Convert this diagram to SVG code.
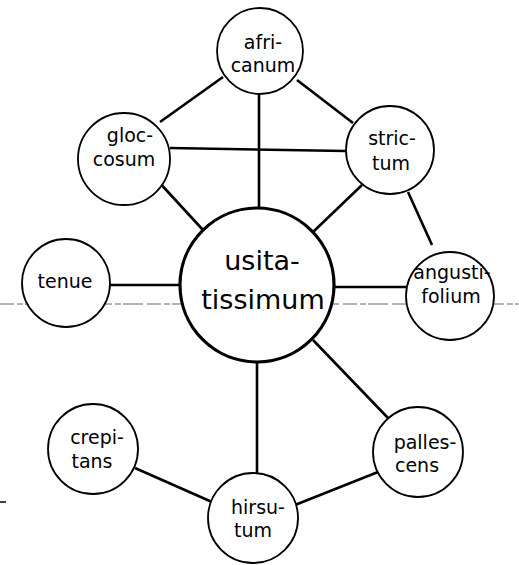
<svg xmlns="http://www.w3.org/2000/svg" width="519" height="565" viewBox="0 0 519 565">
<style>
.e{stroke:#000;stroke-width:2.6;stroke-linecap:butt;fill:none}
.n{fill:#fff;stroke:#000;stroke-width:1.8}
.big{fill:#fff;stroke:#000;stroke-width:3.2}
text{font-family:"DejaVu Sans","Liberation Sans",sans-serif;font-size:19px;fill:#000;text-anchor:middle}
.bt{font-size:27px}
.scan{stroke:#666;stroke-width:1;stroke-dasharray:14 3 6 2 20 4}
</style>
<line class="scan" x1="0" y1="304" x2="519" y2="304"/>
<line x1="0" y1="502" x2="6" y2="502" stroke="#000" stroke-width="1.5"/>
<g id="connectors">
<line class="e" x1="160" y1="122" x2="223" y2="77"/>
<line class="e" x1="297" y1="80" x2="353" y2="123"/>
<line class="e" x1="259" y1="93" x2="259" y2="209"/>
<line class="e" x1="170" y1="148" x2="346" y2="151"/>
<line class="e" x1="157" y1="180" x2="203" y2="230"/>
<line class="e" x1="362" y1="185" x2="313" y2="232"/>
<line class="e" x1="408" y1="192" x2="432" y2="245"/>
<line class="e" x1="110" y1="285" x2="181" y2="285"/>
<line class="e" x1="334" y1="287" x2="406" y2="287"/>
<line class="e" x1="313" y1="340" x2="388" y2="418"/>
<line class="e" x1="257" y1="361" x2="257" y2="474"/>
<line class="e" x1="135" y1="468" x2="212" y2="502"/>
<line class="e" x1="378" y1="472" x2="295" y2="505"/>
</g>
<g id="africanum"><circle class="n" cx="260" cy="51" r="43"/><text x="263" y="49">afri-</text><text x="263" y="72">canum</text></g>
<g id="gloccosum"><circle class="n" cx="124" cy="159" r="46"/><text x="130" y="142">gloc-</text><text x="124" y="166">cosum</text></g>
<g id="strictum"><circle class="n" cx="390" cy="150" r="44"/><text x="392" y="145">stric-</text><text x="391" y="170">tum</text></g>
<g id="usitatissimum"><circle class="big" cx="257" cy="285" r="77"/><text class="bt" x="262" y="270">usita-</text><text class="bt" x="263" y="309">tissimum</text></g>
<g id="tenue"><circle class="n" cx="66" cy="283" r="44"/><text x="65" y="288">tenue</text></g>
<g id="angustifolium"><circle class="n" cx="450" cy="296" r="44"/><text x="452" y="279">angusti-</text><text x="451" y="303">folium</text></g>
<g id="crepitans"><circle class="n" cx="93" cy="449" r="45"/><text x="97" y="444">crepi-</text><text x="92" y="468">tans</text></g>
<g id="hirsutum"><circle class="n" cx="253" cy="518" r="45"/><text x="258" y="514">hirsu-</text><text x="253" y="537">tum</text></g>
<g id="pallescens"><circle class="n" cx="418" cy="452" r="45"/><text x="425" y="449">palles-</text><text x="417" y="472">cens</text></g>
</svg>
